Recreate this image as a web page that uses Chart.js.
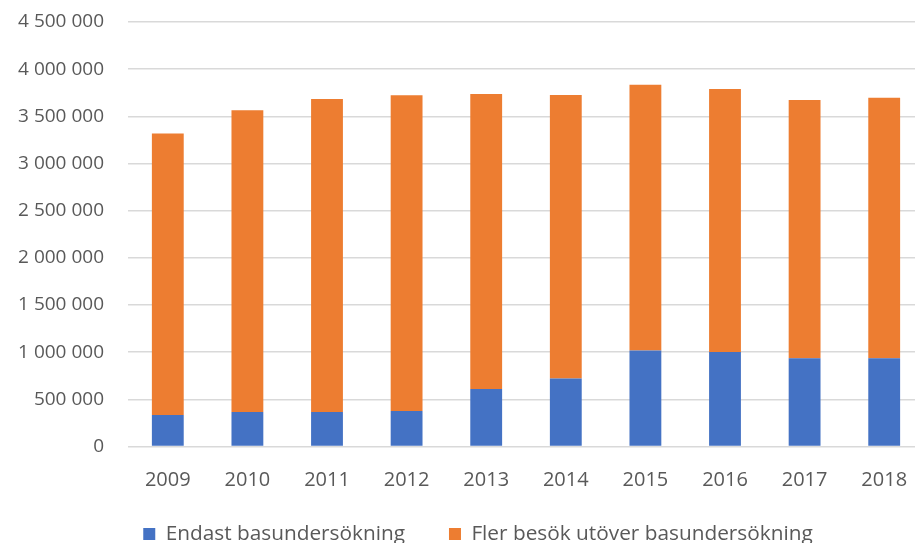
<!DOCTYPE html>
<html>
<head>
<meta charset="utf-8">
<script src="https://cdn.jsdelivr.net/npm/chart.js@4"></script>
<style>
  html, body { margin: 0; padding: 0; background: #fff; overflow: hidden; }
  #wrap { width: 930px; height: 543px; position: relative; }
</style>
</head>
<body>
<div id="wrap"><canvas id="chart"></canvas></div>
<script>
const years = ['2009', '2010', '2011', '2012', '2013', '2014', '2015', '2016', '2017', '2018'];
const endastBas = [334000, 366000, 366000, 377000, 610000, 720000, 1017000, 1003000, 936000, 936000];
const flerBesok = [2983000, 3198000, 3319000, 3346000, 3128000, 3007000, 2817000, 2788000, 2738000, 2760000];

const textColor = '#595959';
const fontFamily = "'Open Sans', sans-serif";
const legendGap = 44;
const legendHeight = 58;
const legendTop = 479.5;

function spaced(n) {
    return String(n).replace(/\B(?=(\d{3})+(?!\d))/g, ' ');
}

// fixed legend height + position, and no clipping of axis labels
const layoutTweaks = {
    id: 'layoutTweaks',
    beforeLayout(chart) {
        const legend = chart.legend;
        if (legend && !legend._fixedFit) {
            const fit = legend.fit;
            legend.fit = function () {
                fit.call(this);
                this.height = legendHeight;
            };
            legend._fixedFit = true;
        }
    },
    afterLayout(chart) {
        chart.scales.y.left = 0;
        chart.scales.x.bottom = chart.height;
        const legend = chart.legend;
        legend.top = legendTop;
        legend.bottom = chart.height;
    }
};

new Chart(document.getElementById('chart'), {
    type: 'bar',
    data: {
        labels: years,
        datasets: [{
            label: 'Endast basundersökning',
            data: endastBas,
            backgroundColor: '#4472c4'
        }, {
            label: 'Fler besök utöver basundersökning',
            data: flerBesok,
            backgroundColor: '#ed7d31'
        }]
    },
    plugins: [layoutTweaks],
    options: {
        responsive: true,
        maintainAspectRatio: false,
        animation: false,
        layout: {
            padding: { left: 32, right: 6, top: 22, bottom: 0 }
        },
        datasets: {
            bar: { barPercentage: 0.4, categoryPercentage: 1 }
        },
        scales: {
            x: {
                stacked: true,
                afterFit: (scale) => { scale.height = 38.5; },
                grid: { display: false },
                border: { display: false },
                ticks: {
                    color: textColor,
                    padding: 14,
                    font: { family: fontFamily, size: 20 }
                }
            },
            y: {
                stacked: true,
                min: 0,
                max: 4500000,
                afterFit: (scale) => { scale.width = 96; },
                grid: {
                    color: '#d9d9d9',
                    lineWidth: 1.5,
                    drawTicks: true,
                    tickLength: 20,
                    tickColor: 'rgba(0,0,0,0)'
                },
                border: { display: false },
                ticks: {
                    stepSize: 500000,
                    color: textColor,
                    padding: 4,
                    font: { family: fontFamily, size: 19 },
                    callback: (v) => spaced(v)
                }
            }
        },
        plugins: {
            tooltip: { enabled: false },
            legend: {
                position: 'bottom',
                labels: {
                    color: textColor,
                    boxWidth: 12,
                    boxHeight: 12,
                    padding: legendGap,
                    font: { family: fontFamily, size: 20.8 }
                }
            }
        }
    }
});
</script>
</body>
</html>
